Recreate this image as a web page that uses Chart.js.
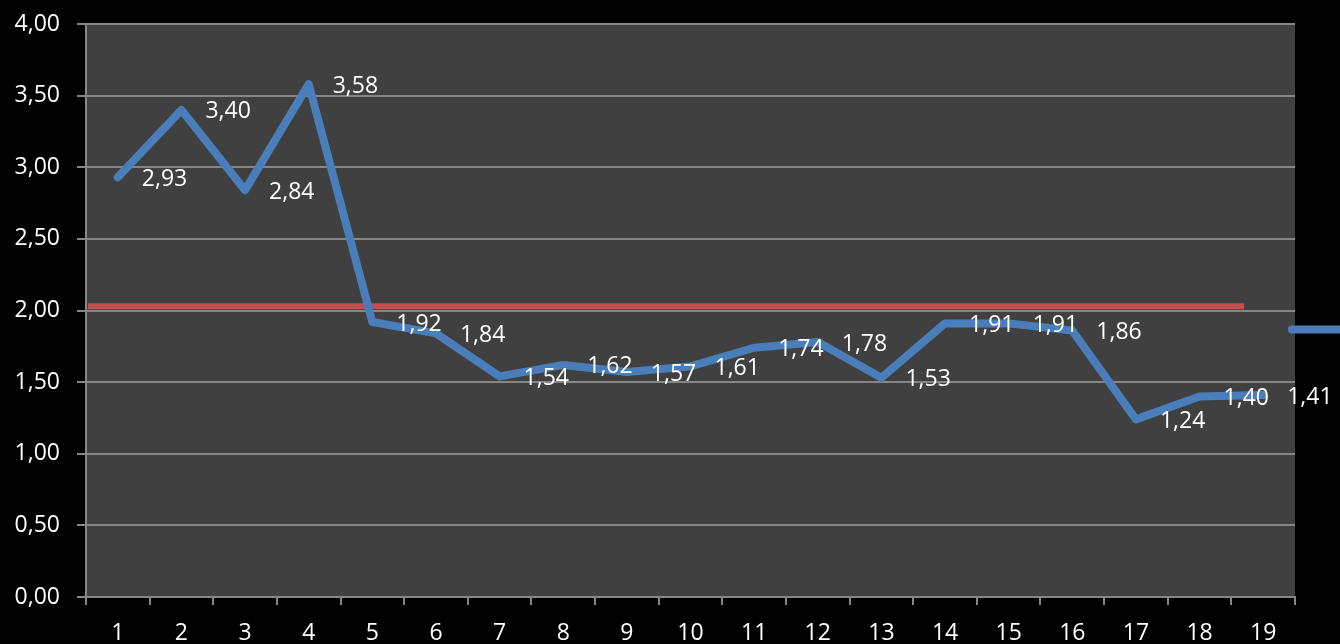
<!DOCTYPE html>
<html>
<head>
<meta charset="utf-8">
<script src="https://cdn.jsdelivr.net/npm/chart.js@4/dist/chart.umd.min.js"></script>
<style>
  html, body { margin: 0; padding: 0; background: #000; overflow: hidden; }
  #wrap { width: 1340px; height: 644px; position: relative; }
</style>
</head>
<body>
<div id="wrap"><canvas id="chart"></canvas></div>
<script>
// ===== Dados =====
const categories = ['1', '2', '3', '4', '5', '6', '7', '8', '9', '10', '11', '12', '13', '14', '15', '16', '17', '18', '19'];
const values = [2.93, 3.40, 2.84, 3.58, 1.92, 1.84, 1.54, 1.62, 1.57, 1.61, 1.74, 1.78, 1.53, 1.91, 1.91, 1.86, 1.24, 1.40, 1.41];
// linha de referência (vermelha), em eixo x secundário
const refX = [0.03, 18.2];
const refY = [2.03, 2.03];
const yTicks = [0, 0.5, 1, 1.5, 2, 2.5, 3, 3.5, 4];

const COLORS = {
  plot: '#404040',
  grid: '#868686',
  text: '#FFFFFF',
  line: '#4A7EBB',
  ref: '#C0504D'
};
const FONT = { family: '"Open Sans", "Liberation Sans", sans-serif', size: 23 };

const fmt = v => v.toFixed(2).replace('.', ',');

// Fundo da área do gráfico
const plotBg = {
  id: 'plotBg',
  beforeDraw(chart) {
    const { ctx, chartArea: a } = chart;
    ctx.save();
    ctx.fillStyle = COLORS.plot;
    ctx.fillRect(a.left, a.top, a.right - a.left, a.bottom - a.top);
    ctx.restore();
  }
};

// Rótulos de dados à direita de cada ponto
const dataLabels = {
  id: 'dataLabels',
  afterDatasetsDraw(chart) {
    const { ctx } = chart;
    const meta = chart.getDatasetMeta(0);
    ctx.save();
    ctx.font = `${FONT.size}px ${FONT.family}`;
    ctx.fillStyle = COLORS.text;
    ctx.textAlign = 'left';
    ctx.textBaseline = 'middle';
    meta.data.forEach((pt, i) => {
      ctx.fillText(fmt(values[i]), pt.x + 24, pt.y + 2);
    });
    ctx.restore();
  }
};

// Marcador da legenda (cortado na borda direita)
const legendMark = {
  id: 'legendMark',
  afterDraw(chart) {
    const { ctx, chartArea: a } = chart;
    const y = a.top + (a.bottom - a.top) * 0.533;
    ctx.save();
    ctx.strokeStyle = COLORS.line;
    ctx.lineWidth = 8;
    ctx.lineCap = 'round';
    ctx.beginPath();
    ctx.moveTo(a.right - 3, y);
    ctx.lineTo(chart.width + 20, y);
    ctx.stroke();
    ctx.restore();
  }
};

new Chart(document.getElementById('chart'), {
  type: 'line',
  data: {
    labels: categories,
    datasets: [
      {
        label: 'Série',
        data: values,
        borderColor: COLORS.line,
        borderWidth: 8,
        borderCapStyle: 'round',
        borderJoinStyle: 'round',
        pointRadius: 0,
        tension: 0,
        order: 1
      },
      {
        label: 'Referência',
        data: refX.map((x, i) => ({ x: x, y: refY[i] })),
        xAxisID: 'x2',
        borderColor: COLORS.ref,
        borderWidth: 6,
        pointRadius: 0,
        order: 2
      }
    ]
  },
  options: {
    responsive: true,
    maintainAspectRatio: false,
    animation: false,
    layout: { padding: { top: 24, right: 45, left: 0, bottom: 0 } },
    plugins: {
      legend: { display: false },
      tooltip: { enabled: false }
    },
    scales: {
      x: {
        type: 'category',
        offset: true,
        grid: {
          offset: true,
          drawOnChartArea: false,
          drawTicks: true,
          tickLength: 8,
          color: COLORS.grid,
          lineWidth: 2
        },
        border: { color: COLORS.grid, width: 2 },
        ticks: { color: COLORS.text, font: FONT, padding: 15, maxRotation: 0, autoSkip: false },
        afterFit(scale) { scale.height = 47; }
      },
      x2: {
        type: 'linear',
        display: false,
        min: 0,
        max: categories.length,
        offset: false
      },
      y: {
        min: 0,
        max: 4,
        afterBuildTicks(scale) { scale.ticks = yTicks.map(v => ({ value: v })); },
        grid: { color: COLORS.grid, lineWidth: 2, tickLength: 9 },
        border: { color: COLORS.grid, width: 2 },
        ticks: {
          color: COLORS.text,
          font: FONT,
          padding: 17,
          callback: v => fmt(v)
        },
        afterFit(scale) {
          scale.width = 86;
          scale.paddingTop = 0;
          scale.paddingBottom = 0;
        }
      }
    }
  },
  plugins: [plotBg, dataLabels, legendMark]
});
</script>
</body>
</html>
